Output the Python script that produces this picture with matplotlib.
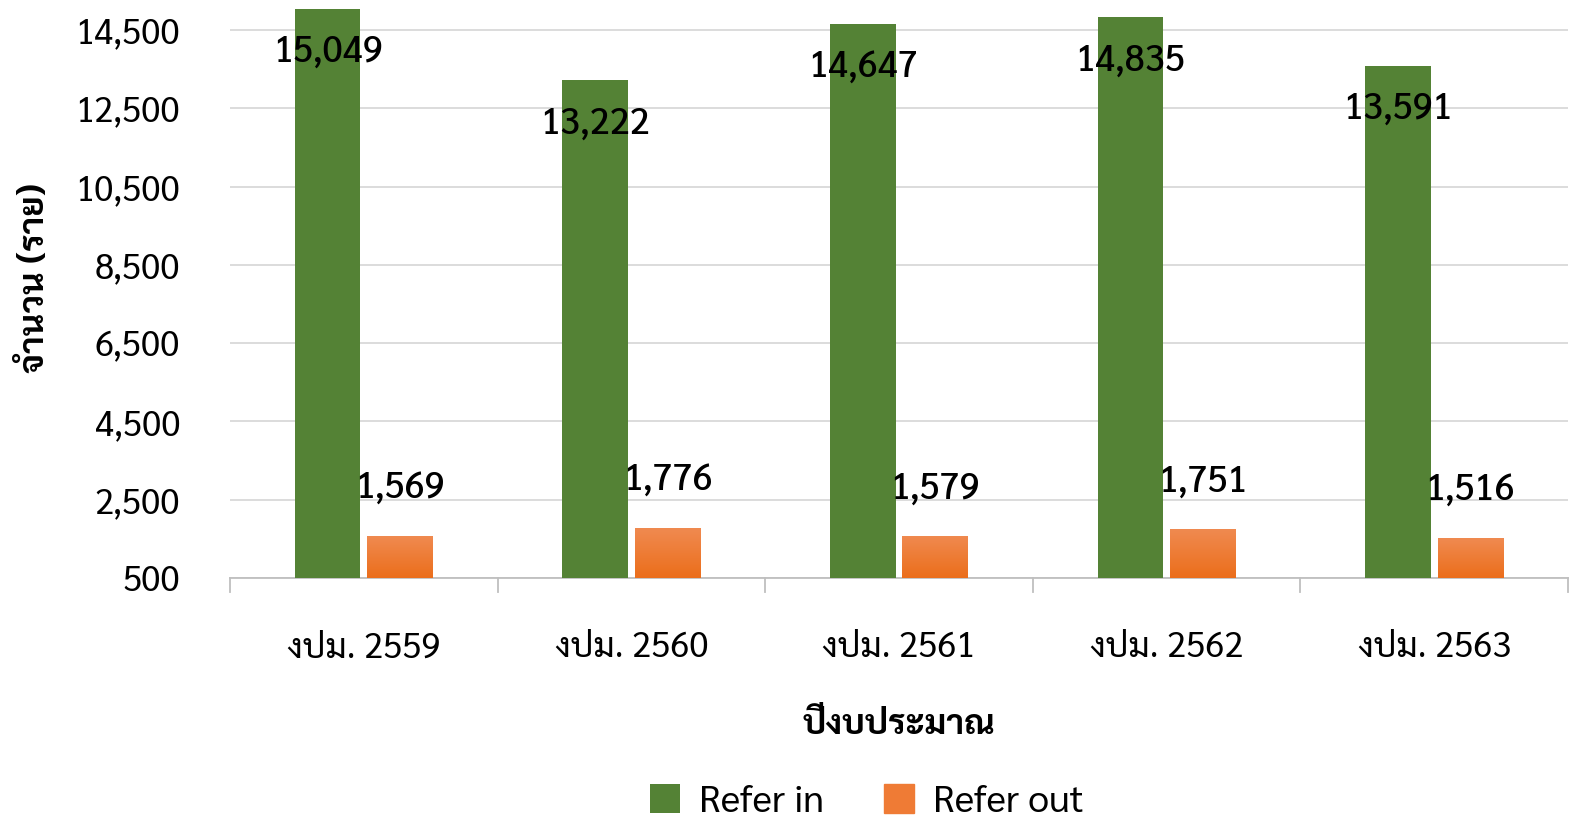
import matplotlib
matplotlib.use('Agg')
import matplotlib.pyplot as plt
from matplotlib.colors import LinearSegmentedColormap
import numpy as np

years = ['งปม. 2559', 'งปม. 2560', 'งปม. 2561', 'งปม. 2562', 'งปม. 2563']
refer_in = [15049, 13222, 14647, 14835, 13591]
refer_out = [1569, 1776, 1579, 1751, 1516]
yticks = [500, 2500, 4500, 6500, 8500, 10500, 12500, 14500]

GREEN = '#548235'
ORANGE = '#ED7D31'
orange_grad = LinearSegmentedColormap.from_list('og', ['#EB6E1B', '#F08A50'])

plt.rcParams['font.family'] = ['Sarabun', 'DejaVu Sans']

fig = plt.figure(figsize=(15.91, 8.32), dpi=100)
ax = fig.add_axes([230 / 1591, 1 - 578 / 832, (1568 - 230) / 1591, 578 / 832])

x = np.arange(len(years))
w = 0.245
ax.bar(x - 0.135, refer_in, width=w, color=GREEN, label='Refer in', zorder=3)
out_bars = ax.bar(x + 0.135, refer_out, width=w, color=ORANGE, label='Refer out', zorder=3)

ymin = 500
ymax = 14500 + 30 / (548 / 14000)

# vertical gradient on the orange bars
grad = np.linspace(0, 1, 64).reshape(-1, 1)
for bar in out_bars:
    bx, bw, bh = bar.get_x(), bar.get_width(), bar.get_height()
    im = ax.imshow(grad, cmap=orange_grad, aspect='auto', origin='lower',
                   extent=[bx, bx + bw, ymin, bh], zorder=3.5)
    im.set_clip_path(bar)
ax.set_xlim(-0.5, len(years) - 0.5)
ax.set_ylim(ymin, ymax)

for xi, v in zip(x, refer_in):
    ax.annotate(f'{v:,}', (xi - 0.135, v), xytext=(0, -44), textcoords='offset pixels',
                ha='center', va='center', fontsize=26, fontweight='medium', zorder=4)
for xi, v in zip(x, refer_out):
    ax.annotate(f'{v:,}', (xi + 0.135, v), xytext=(0, 47), textcoords='offset pixels',
                ha='center', va='center', fontsize=26, fontweight='medium', zorder=4)

ax.set_yticks(yticks)
ax.set_yticklabels([f'{t:,}' for t in yticks], fontsize=25)
ax.yaxis.grid(True, color='#d9d9d9', linewidth=1.3, zorder=0)
ax.tick_params(axis='y', length=0, pad=36)

ax.set_xticks(x)
ax.set_xticklabels(years, fontsize=25)
ax.tick_params(axis='x', length=0, pad=38)
for b in np.arange(-0.5, len(years), 1.0):
    ax.plot([b, b], [0, -0.025], transform=ax.get_xaxis_transform(), color='#bfbfbf',
            linewidth=1.3, clip_on=False)

for s in ['top', 'right', 'left']:
    ax.spines[s].set_visible(False)
ax.spines['bottom'].set_color('#bfbfbf')
ax.spines['bottom'].set_linewidth(1.3)

ax.set_xlabel('ปีงบประมาณ', fontsize=25, fontweight='bold')
ax.xaxis.set_label_coords(0.5, -(708 - 578) / 578)
ax.set_ylabel('จำนวน (ราย)', fontsize=25, fontweight='bold')
ax.yaxis.set_label_coords(-(230 - 52) / 1338, 1 - 278 / 578)

leg = fig.legend(loc='center', bbox_to_anchor=(0.545, 1 - 802 / 832), ncol=2, frameon=False,
                 fontsize=27, handlelength=0.8, handleheight=0.8, columnspacing=1.6,
                 handletextpad=0.5)
leg.legend_handles[1].set_color('#EF7B35')

plt.savefig('out.png', dpi=100)
plt.close()
